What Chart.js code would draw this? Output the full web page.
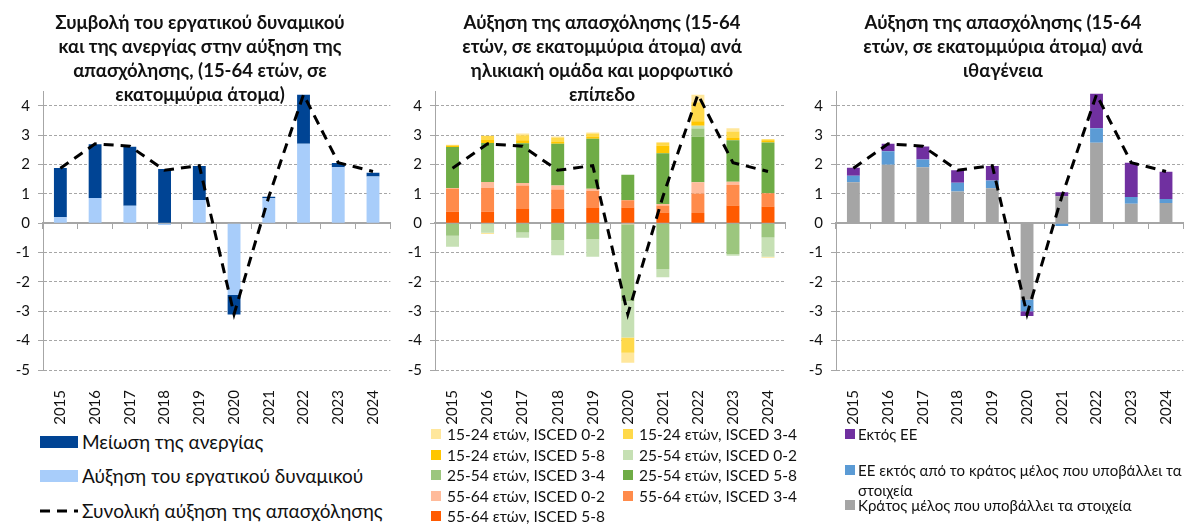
<!DOCTYPE html>
<html>
<head>
<meta charset="utf-8">
<script src="https://cdn.jsdelivr.net/npm/chart.js@4.4.1/dist/chart.umd.min.js"></script>
<style>
  body { margin: 0; width: 1188px; height: 524px; overflow: hidden; background: #fff;
         font-family: Lato, 'Open Sans', sans-serif; color: #111; }
  canvas { position: absolute; top: 0; }
  .title { position: absolute; top: 10px; width: 400px; text-align: center; font-weight: bold;
           font-size: 18.5px; line-height: 24px; white-space: pre-line; z-index: 2; pointer-events: none; }
  .legend { position: absolute; }
  .item { position: absolute; display: flex; align-items: center; white-space: nowrap; }
  .sw { display: inline-block; flex: none; }
  #leg1 .item { font-size: 19px; }
  #leg1 .sw { width: 38px; height: 12px; margin-right: 4px; }
  #leg2 .item { font-size: 15.5px; }
  #leg2 .sw { width: 10px; height: 10px; margin-right: 6px; }
  #leg3 .item { font-size: 15px; white-space: normal; align-items: flex-start; line-height: 20px; width: 345px; }
  #leg3 .sw { width: 10px; height: 10px; margin: 5px 3px 0 0; }
</style>
</head>
<body>
<canvas id="c1" width="403" height="430" style="left:0px"></canvas>
<canvas id="c2" width="406" height="430" style="left:392px"></canvas>
<canvas id="c3" width="403" height="430" style="left:793px"></canvas>
<div class="title" style="left:0px">Συμβολή του εργατικού δυναμικού
και της ανεργίας στην αύξηση της
απασχόλησης, (15-64 ετών, σε
εκατομμύρια άτομα)</div>
<div class="title" style="left:402px">Αύξηση της απασχόλησης (15-64
ετών, σε εκατομμύρια άτομα) ανά
ηλικιακή ομάδα και μορφωτικό
επίπεδο</div>
<div class="title" style="left:803px">Αύξηση της απασχόλησης (15-64
ετών, σε εκατομμύρια άτομα) ανά
ιθαγένεια</div>
<div class="legend" id="leg1"></div>
<div class="legend" id="leg2"></div>
<div class="legend" id="leg3"></div>
<script>
// data
var years = ['2015', '2016', '2017', '2018', '2019', '2020', '2021', '2022', '2023', '2024']
var yTicks = [-5, -4, -3, -2, -1, 0, 1, 2, 3, 4]
var totalGrowth = [1.87, 2.7, 2.62, 1.8, 1.96, -3.1, 0.9, 4.38, 2.06, 1.76]
var totalLabel = 'Συνολική αύξηση της απασχόλησης'

// panel 1
var unemploymentDecline = [1.68, 1.83, 2.01, 1.84, 1.16, -0.66, 0.05, 1.67, 0.15, 0.13]
var labourForceGrowth = [0.2, 0.86, 0.59, -0.06, 0.79, -2.45, 0.85, 2.7, 1.9, 1.59]

// panel 2
var y1524_02 = [0.01, -0.04, 0.06, 0.03, 0.04, -0.34, 0.03, 0.25, 0.11, -0.04]
var y1524_34 = [0.02, 0.15, 0.17, 0.16, 0.1, -0.52, 0.09, 0.65, 0.22, 0.04]
var y1524_58 = [0.05, 0.1, 0.1, 0.06, 0.08, 0, 0.26, 0.15, 0.08, 0.07]
var y2554_02 = [-0.37, -0.33, -0.18, -0.52, -0.59, -1.24, -0.27, 0.1, -0.05, -0.65]
var y2554_34 = [-0.43, 0, -0.32, -0.57, -0.55, -2.61, -1.57, 0.28, -1.06, -0.49]
var y2554_58 = [1.39, 1.33, 1.35, 1.42, 1.7, 0.87, 1.73, 1.55, 1.41, 1.73]
var y5564_02 = [0.02, 0.2, 0.09, 0.13, 0.07, -0.04, 0.05, 0.38, 0.11, 0]
var y5564_34 = [0.79, 0.81, 0.8, 0.65, 0.58, 0.25, 0.24, 0.66, 0.7, 0.45]
var y5564_58 = [0.39, 0.39, 0.48, 0.5, 0.52, 0.53, 0.36, 0.35, 0.6, 0.57]

// panel 3
var reportingState = [1.39, 1.99, 1.9, 1.08, 1.19, -2.61, 0.92, 2.74, 0.66, 0.69]
var otherEU = [0.22, 0.46, 0.27, 0.3, 0.26, -0.39, -0.1, 0.49, 0.23, 0.13]
var nonEU = [0.28, 0.25, 0.44, 0.42, 0.5, -0.16, 0.13, 1.18, 1.17, 0.93]

var FONT = 'Lato, "Open Sans", sans-serif'
var GRID = '#a6a6a6'

function bar(label, data, color) {
  return { type: 'bar', label: label, data: data, backgroundColor: color, borderWidth: 0,
           categoryPercentage: 1, barPercentage: 0.37 }
}

function totalLine() {
  return { type: 'line', label: totalLabel, data: totalGrowth, borderColor: '#000', borderWidth: 3,
           borderDash: [10, 7], pointRadius: 0, tension: 0, fill: false, order: -1, stack: 'line' }
}

function options() {
  return {
    responsive: false,
    animation: false,
    layout: { padding: { top: 91, left: 0, right: 0, bottom: 0 } },
    plugins: { legend: { display: false }, tooltip: { enabled: false } },
    scales: {
      x: {
        stacked: true,
        offset: true,
        grid: { display: false },
        border: { display: false },
        ticks: { minRotation: 90, maxRotation: 90, padding: 12, color: '#111',
                 font: { family: FONT, size: 15 } },
        afterFit: function (s) { s.height = 60 }
      },
      x0: {
        type: 'category',
        position: { y: 0 },
        offset: true,
        grid: { offset: true, drawOnChartArea: false, tickLength: 5, color: GRID },
        border: { color: GRID, width: 2 },
        ticks: { display: false }
      },
      y: {
        stacked: true,
        min: -5,
        max: 4.5,
        afterBuildTicks: function (s) { s.ticks = yTicks.map(function (v) { return { value: v } }) },
        grid: { color: GRID, tickLength: 5, lineWidth: 1 },
        border: { color: GRID, width: 1, dash: [3, 2] },
        ticks: { padding: 8, color: '#111', font: { family: FONT, size: 15 } },
        afterFit: function (s) { s.width = 43 }
      }
    }
  }
}

new Chart(document.getElementById('c1'), {
  data: {
    labels: years,
    datasets: [
      bar('Αύξηση του εργατικού δυναμικού', labourForceGrowth, '#a8cdfa'),
      bar('Μείωση της ανεργίας', unemploymentDecline, '#004494'),
      totalLine()
    ]
  },
  options: options()
})

new Chart(document.getElementById('c2'), {
  data: {
    labels: years,
    datasets: [
      bar('55-64 ετών, ISCED 5-8', y5564_58, '#ff5a00'),
      bar('55-64 ετών, ISCED 3-4', y5564_34, '#ff8b4b'),
      bar('55-64 ετών, ISCED 0-2', y5564_02, '#ffbb9b'),
      bar('25-54 ετών, ISCED 5-8', y2554_58, '#6fac46'),
      bar('25-54 ετών, ISCED 3-4', y2554_34, '#9cc67e'),
      bar('25-54 ετών, ISCED 0-2', y2554_02, '#c6e0b4'),
      bar('15-24 ετών, ISCED 5-8', y1524_58, '#ffc600'),
      bar('15-24 ετών, ISCED 3-4', y1524_34, '#ffd94a'),
      bar('15-24 ετών, ISCED 0-2', y1524_02, '#ffe79c'),
      totalLine()
    ]
  },
  options: options()
})

new Chart(document.getElementById('c3'), {
  data: {
    labels: years,
    datasets: [
      bar('Κράτος μέλος που υποβάλλει τα στοιχεία', reportingState, '#a5a5a5'),
      bar('ΕΕ εκτός από το κράτος μέλος που υποβάλλει τα στοιχεία', otherEU, '#5b9bd5'),
      bar('Εκτός ΕΕ', nonEU, '#7030a0'),
      totalLine()
    ]
  },
  options: options()
})

// legends (html, laid out like the original)
function addItem(box, label, color, left, top, swatchHtml) {
  var el = document.createElement('div')
  el.className = 'item'
  el.style.left = left + 'px'
  el.style.top = top + 'px'
  el.innerHTML = (swatchHtml || '<span class="sw" style="background:' + color + '"></span>') + '<span></span>'
  el.lastChild.textContent = label
  box.appendChild(el)
}

var leg1 = document.getElementById('leg1')
addItem(leg1, 'Μείωση της ανεργίας', '#004494', 40, 430)
addItem(leg1, 'Αύξηση του εργατικού δυναμικού', '#a8cdfa', 40, 464)
addItem(leg1, totalLabel, null, 40, 499,
  '<svg width="42" height="12" style="flex:none"><line x1="0" y1="6" x2="38" y2="6" stroke="#000" stroke-width="3" stroke-dasharray="10 7"/></svg>')

var leg2 = document.getElementById('leg2')
var ds2 = Chart.getChart('c2').data.datasets.filter(function (d) { return d.type === 'bar' }).reverse()
ds2.forEach(function (d, i) {
  addItem(leg2, d.label, d.backgroundColor, i % 2 === 0 ? 431 : 623, 425 + Math.floor(i / 2) * 20.5)
})

var leg3 = document.getElementById('leg3')
var ds3 = Chart.getChart('c3').data.datasets.filter(function (d) { return d.type === 'bar' }).reverse()
var tops3 = [424, 460, 495]
ds3.forEach(function (d, i) { addItem(leg3, d.label, d.backgroundColor, 845, tops3[i]) })
</script>
</body>
</html>
